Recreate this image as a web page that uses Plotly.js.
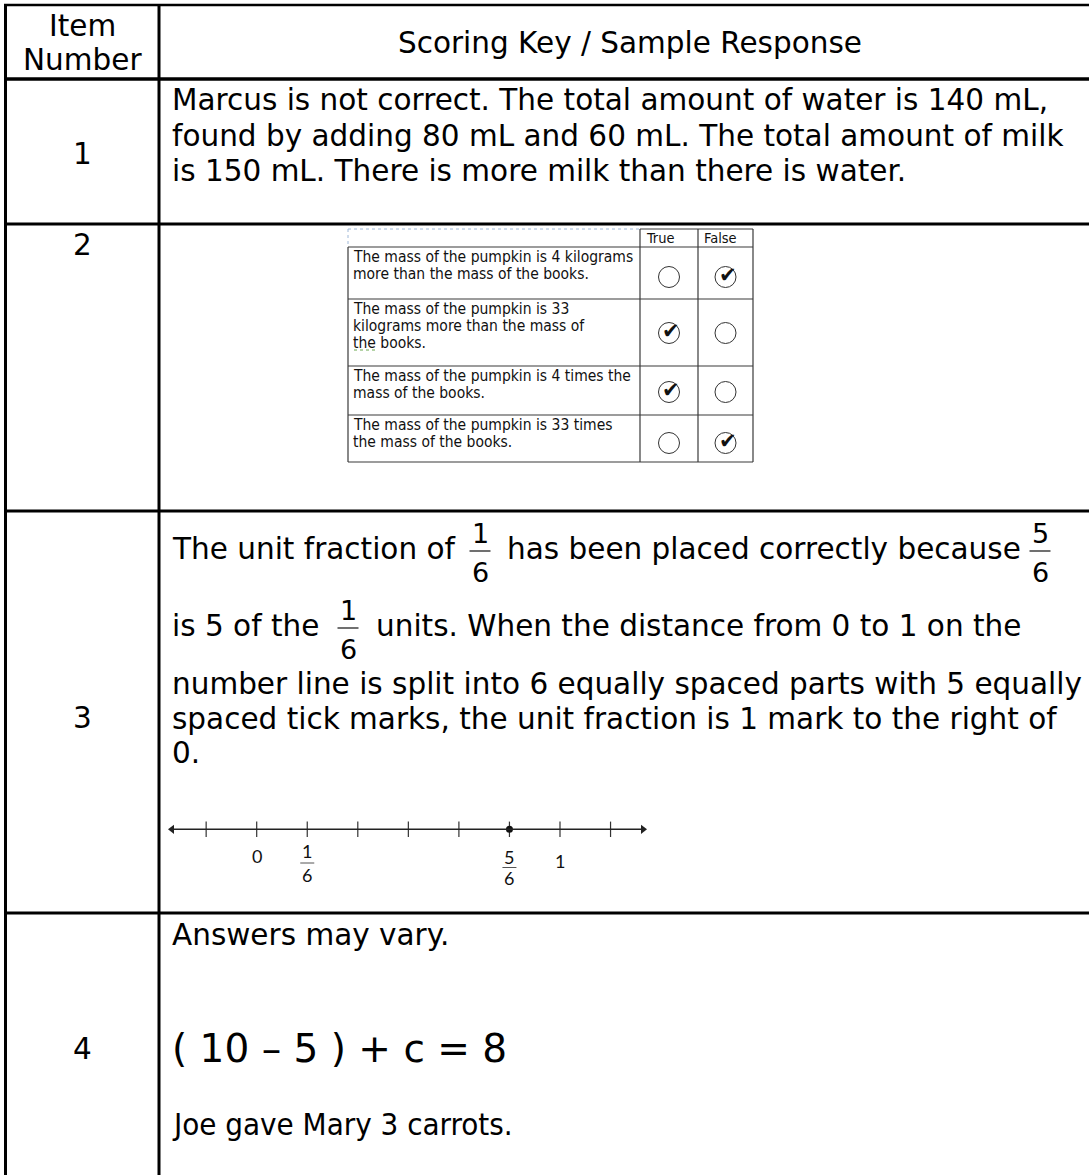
<!DOCTYPE html>
<html><head><meta charset="utf-8">
<script src="https://cdn.plot.ly/plotly-3.0.1.min.js"></script>
<style>html,body{margin:0;padding:0;background:#fff}#chart{width:1089px;height:1175px}</style>
</head><body><div id="chart"></div><script>
// ---------- data ----------
const headerItem = ['Item', 'Number'];
const headerResponse = 'Scoring Key / Sample Response';
const itemNumbers = ['1', '2', '3', '4'];
const item1Lines = [
  'Marcus is not correct. The total amount of water is 140 mL,',
  'found by adding 80 mL and 60 mL. The total amount of milk',
  'is 150 mL. There is more milk than there is water.'
];
const item2ColumnHeads = ['True', 'False'];
const item2Statements = [
  ['The mass of the pumpkin is 4 kilograms', 'more than the mass of the books.'],
  ['The mass of the pumpkin is 33', 'kilograms more than the mass of', 'the books.'],
  ['The mass of the pumpkin is 4 times the', 'mass of the books.'],
  ['The mass of the pumpkin is 33 times', 'the mass of the books.']
];
const item2True = [false, true, true, false];
const item2False = [true, false, false, true];
const item3Line1 = ['The unit fraction of', 'has been placed correctly because'];
const item3Line2 = ['is 5 of the', 'units. When the distance from 0 to 1 on the'];
const item3Numerators = ['1', '5', '1'];
const item3Denominators = ['6', '6', '6'];
const item3Lines = [
  'number line is split into 6 equally spaced parts with 5 equally',
  'spaced tick marks, the unit fraction is 1 mark to the right of',
  '0.'
];
const tickSixths = [-1, 0, 1, 2, 3, 4, 5, 6, 7];
const pointSixths = [5];
const labelSixths = [0, 1, 5, 6];
const labelNumerators = ['0', '1', '5', '1'];
const labelDenominators = ['', '6', '6', ''];
const item4Lines = ['Answers may vary.', '( 10 \u2013 5 ) + c = 8', 'Joe gave Mary 3 carrots.'];

// ---------- layout helpers ----------
const W = 1089, H = 1175;
const F = 'DejaVu Sans, Verdana, sans-serif';
const FC = 'DejaVu Sans Condensed, DejaVu Sans, sans-serif';
const BODY = 29.5;
const annotations = [];
const shapes = [];
function txt(x, y, text, size, extra) {
  const a = {x: x, y: y, xref: 'x', yref: 'y', text: text, showarrow: false,
    xanchor: 'left', yanchor: 'middle', borderpad: 0,
    font: {family: F, size: size, color: '#000'}};
  annotations.push(Object.assign(a, extra || {}));
}
function hline(y, x0, x1, w, c, dash) {
  shapes.push({type: 'line', xref: 'x', yref: 'y', x0: x0, x1: x1, y0: y, y1: y,
    line: {width: w, color: c || '#000', dash: dash || 'solid'}});
}
function vline(x, y0, y1, w, c, dash) {
  shapes.push({type: 'line', xref: 'x', yref: 'y', x0: x, x1: x, y0: y0, y1: y1,
    line: {width: w, color: c || '#000', dash: dash || 'solid'}});
}

// ---------- outer table ----------
const colX = 159, leftX = 5.5, itemCX = 82.5, textX = 171;
hline(5, 4, W + 10, 2.5);
hline(79, 4, W + 10, 3.5);
hline(224, 4, W + 10, 3);
hline(511, 4, W + 10, 3);
hline(913, 4, W + 10, 3);
vline(leftX, 4, H + 10, 3);
vline(colX, 4, H + 10, 3);

txt(itemCX, 26, headerItem[0], BODY, {xanchor: 'center'});
txt(itemCX, 60, headerItem[1], BODY, {xanchor: 'center'});
txt(629.5, 43, headerResponse, BODY, {xanchor: 'center'});

const itemY = [154, 245, 718, 1049];
itemNumbers.forEach((n, i) => txt(itemCX, itemY[i], n, BODY, {xanchor: 'center'}));

// item 1
const item1Y = [100, 135.5, 171];
item1Lines.forEach((l, i) => txt(textX, item1Y[i], l, BODY));

// ---------- item 2 nested table ----------
const nL = 348, nStmtR = 640, nMid = 698, nR = 753;
const nRows = [247, 299, 366, 415, 462];
const NC = '#3a3a3a';
hline(229, nL, nStmtR, 1, '#9fb8d8', 'dot');
vline(nL, 229, 247, 1, '#9fb8d8', 'dot');
hline(229, nStmtR, nR, 1.2, NC);
nRows.forEach(y => hline(y, nL, nR, 1.2, NC));
vline(nL, 247, 462, 1.2, NC);
vline(nStmtR, 229, 462, 1.2, NC);
vline(nMid, 229, 462, 1.2, NC);
vline(nR, 229, 462, 1.2, NC);
txt(645, 238, item2ColumnHeads[0], 14.5, {font: {family: FC, size: 14.5, color: '#111'}});
txt(703, 238, item2ColumnHeads[1], 14.5, {font: {family: FC, size: 14.5, color: '#111'}});
item2Statements.forEach((lines, r) => {
  lines.forEach((l, j) => txt(352, nRows[r] + 10 + j * 16.8, l, 15.5, {font: {family: FC, size: 15.5, color: '#111'}}));
});
// spell-check squiggle under "the"
hline(350, 354, 375, 1, '#6aa84f', 'dot');

const trueX = (nStmtR + nMid) / 2, falseX = (nMid + nR) / 2;
const circleY = [277, 333, 392, 443];
const circX = [], circY = [];
const chkX = [], chkY = [];
item2True.forEach((v, r) => { circX.push(trueX); circY.push(circleY[r]); if (v) { chkX.push(trueX); chkY.push(circleY[r]); } });
item2False.forEach((v, r) => { circX.push(falseX); circY.push(circleY[r]); if (v) { chkX.push(falseX); chkY.push(circleY[r]); } });
chkX.forEach((x, i) => annotations.push({x: x + 2, y: chkY[i] - 2, xref: 'x', yref: 'y', text: '\u2714',
  showarrow: false, xanchor: 'center', yanchor: 'middle', font: {family: F, size: 21, color: '#111'}}));

// ---------- item 3 ----------
txt(textX, 549, item3Line1[0], BODY);
txt(506, 549, item3Line1[1], BODY);
txt(textX, 626, item3Line2[0], BODY);
txt(375, 626, item3Line2[1], BODY);
const item3Y = [684, 718.5, 753];
item3Lines.forEach((l, i) => txt(textX, item3Y[i], l, BODY));
const fracCX = [480, 1040, 348], fracBarY = [551, 551, 628];
item3Numerators.forEach((n, i) => {
  txt(fracCX[i], fracBarY[i] - 18, n, 27, {xanchor: 'center'});
  txt(fracCX[i], fracBarY[i] + 21, item3Denominators[i], 27, {xanchor: 'center'});
  hline(fracBarY[i], fracCX[i] - 10.5, fracCX[i] + 10.5, 1.4, '#333');
});

// number line (x2 axis: 0 -> 256.7px, 1 -> 560px)
const NLY = 829.3;
const unitPx = 303.3, zeroPx = 256.7;
const leftTip = (167 - zeroPx) / unitPx, rightTip = (648 - zeroPx) / unitPx;
shapes.push({type: 'line', xref: 'x2', yref: 'y', x0: leftTip + 0.01, x1: rightTip - 0.01, y0: NLY, y1: NLY,
  line: {width: 1.5, color: '#222'}});
const LF = 'Lato, Open Sans, sans-serif';
const numY = [856, 851, 857, 861], denY = [0, 875, 878, 0], barY = [0, 863, 867.5, 0];
labelSixths.forEach((k, i) => {
  const v = k / 6;
  const fnt = {family: LF, size: 18, color: '#111'};
  annotations.push({x: v, y: numY[i], xref: 'x2', yref: 'y', text: labelNumerators[i], showarrow: false,
    xanchor: 'center', yanchor: 'middle', font: fnt});
  if (labelDenominators[i]) {
    annotations.push({x: v, y: denY[i], xref: 'x2', yref: 'y', text: labelDenominators[i], showarrow: false,
      xanchor: 'center', yanchor: 'middle', font: fnt});
    shapes.push({type: 'line', xref: 'x2', yref: 'y', x0: v - 7 / unitPx, x1: v + 7 / unitPx,
      y0: barY[i], y1: barY[i], line: {width: 1, color: '#555'}});
  }
});

// ---------- item 4 ----------
txt(textX, 935, item4Lines[0], BODY);
txt(textX, 1048, item4Lines[1], 39);
txt(textX, 1124, item4Lines[2], 31, {font: {family: FC, size: 31, color: '#000'}});

// ---------- traces ----------
const traces = [
  {type: 'scatter', mode: 'markers', x: circX, y: circY, xaxis: 'x', yaxis: 'y', hoverinfo: 'skip',
    marker: {symbol: 'circle-open', size: 21, color: '#333', line: {width: 1, color: '#333'}}},
  {type: 'scatter', mode: 'markers', x: tickSixths.map(k => k / 6), y: tickSixths.map(() => NLY),
    xaxis: 'x2', yaxis: 'y', hoverinfo: 'skip',
    marker: {symbol: 'line-ns', size: 11, color: '#333', line: {width: 1.2, color: '#333'}}},
  {type: 'scatter', mode: 'markers', x: pointSixths.map(k => k / 6), y: pointSixths.map(() => NLY),
    xaxis: 'x2', yaxis: 'y', hoverinfo: 'skip',
    marker: {symbol: 'circle', size: 7, color: '#111'}},
  {type: 'scatter', mode: 'markers', x: [leftTip + 5 / unitPx, rightTip - 5 / unitPx], y: [NLY, NLY],
    xaxis: 'x2', yaxis: 'y', hoverinfo: 'skip',
    marker: {symbol: ['triangle-left', 'triangle-right'], size: 8, color: '#222'}}
];

const layout = {
  width: W, height: H, margin: {l: 0, r: 0, t: 0, b: 0, pad: 0},
  paper_bgcolor: '#fff', plot_bgcolor: '#fff', showlegend: false, hovermode: false,
  xaxis: {range: [0, W], visible: false, fixedrange: true},
  xaxis2: {range: [-zeroPx / unitPx, (W - zeroPx) / unitPx], overlaying: 'x', visible: false, fixedrange: true},
  yaxis: {range: [H, 0], visible: false, fixedrange: true},
  shapes: shapes, annotations: annotations
};
Plotly.newPlot('chart', traces, layout, {staticPlot: true, displayModeBar: false});
</script></body></html>
